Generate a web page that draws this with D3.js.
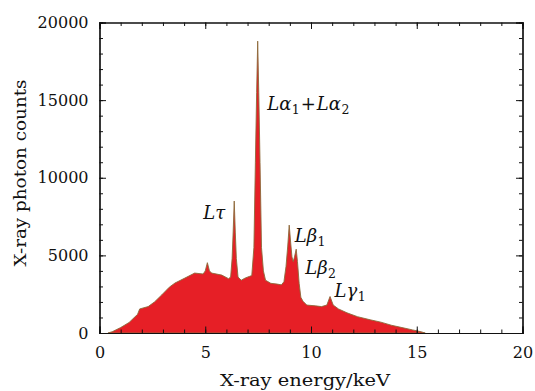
<!DOCTYPE html>
<html>
<head>
<meta charset="utf-8">
<script src="https://cdn.jsdelivr.net/npm/d3@7"></script>
<style>
  body { margin: 0; background: #fff; }
  svg text { font-family: "DejaVu Serif", serif; fill: #111; }
  .peak { font-family: "DejaVu Serif", serif; font-size: 18px; }
</style>
</head>
<body>
<div id="chart"></div>
<script>
// spectrum (keV, photon counts)
const energy = [0.4, 0.6, 1.0, 1.4, 1.8, 1.9, 2.3, 2.6, 2.94, 3.3, 3.57, 4.04, 4.5, 4.9, 5.0, 5.1, 5.2, 5.3,
  5.78, 6.1, 6.2, 6.27, 6.32, 6.37, 6.42, 6.47, 6.55, 6.7, 6.9, 7.1, 7.2, 7.3, 7.37, 7.43, 7.48, 7.53, 7.59,
  7.66, 7.75, 7.85, 8.1, 8.4, 8.6, 8.72, 8.82, 8.9, 8.97, 9.04, 9.1, 9.16, 9.22, 9.3, 9.36, 9.44, 9.52, 9.62,
  9.8, 10.2, 10.5, 10.75, 10.9, 11.05, 11.3, 11.7, 12.2, 12.8, 13.3, 13.8, 14.3, 14.8, 15.2, 15.4];
const counts = [0, 80, 350, 680, 1200, 1550, 1700, 2000, 2450, 2950, 3220, 3540, 3860, 3800, 4000, 4530, 4000, 3860,
  3730, 3500, 3600, 4800, 6500, 8500, 6500, 4800, 3600, 3400, 3550, 3650, 3700, 5500, 11000, 15500, 18800, 15500, 11000,
  5500, 4000, 3400, 3200, 3150, 3100, 3300, 4300, 5600, 6950, 5800, 4900, 4600, 4900, 5400, 4600, 3200, 2300, 2050,
  1800, 1750, 1700, 1800, 2350, 1800, 1550, 1300, 1050, 850, 700, 500, 350, 200, 80, 0];

const xTicks = [0, 5, 10, 15, 20];
const yTicks = [0, 5000, 10000, 15000, 20000];

const peakLabels = [
  { greek: "τ", sub: "", e: 6.37, c: 8500 },
  { greek: "α", sub: "1", greek2: "α", sub2: "2", e: 7.48, c: 18800 },
  { greek: "β", sub: "1", e: 8.97, c: 6950 },
  { greek: "β", sub: "2", e: 9.3, c: 5400 },
  { greek: "γ", sub: "1", e: 10.9, c: 2350 }
];
// label anchor positions (px) relative to each peak
const labelOffsets = [[-31, 18], [9.5, 69], [5.5, 17], [9, 25], [4.5, 0]];

const width = 535, height = 391;
const margin = { top: 22.5, right: 12.5, bottom: 58, left: 99.5 };

const data = energy.map((e, i) => ({ e: e, c: counts[i] }));

const svg = d3.select("#chart").append("svg")
  .attr("width", width).attr("height", height);

const x = d3.scaleLinear().domain([0, 20]).range([margin.left, width - margin.right]);
const y = d3.scaleLinear().domain([0, 20000]).range([height - margin.bottom, margin.top]);

/* spectrum area */
const area = d3.area().x(d => x(d.e)).y0(y(0)).y1(d => y(d.c));
svg.append("path")
  .datum(data)
  .attr("d", area)
  .attr("fill", "#e61f26")
  .attr("stroke", "#8c6a3a")
  .attr("stroke-width", 0.9)
  .attr("stroke-linejoin", "round");

/* frame and ticks on all sides */
const minorX = d3.range(0, 21, 1), minorY = d3.range(0, 20001, 1000);
svg.append("g").attr("transform", `translate(0,${y(0)})`)
  .call(d3.axisBottom(x).tickValues(minorX).tickSize(-3.5).tickFormat(""));
svg.append("g").attr("transform", `translate(0,${y(20000)})`)
  .call(d3.axisTop(x).tickValues(minorX).tickSize(-3.5).tickFormat(""));
svg.append("g").attr("transform", `translate(${x(0)},0)`)
  .call(d3.axisLeft(y).tickValues(minorY).tickSize(-3.5).tickFormat(""));
svg.append("g").attr("transform", `translate(${x(20)},0)`)
  .call(d3.axisRight(y).tickValues(minorY).tickSize(-3.5).tickFormat(""));

svg.append("g").attr("transform", `translate(0,${y(0)})`)
  .call(d3.axisBottom(x).tickValues(xTicks).tickSize(-6.5).tickPadding(14));
svg.append("g").attr("transform", `translate(0,${y(20000)})`)
  .call(d3.axisTop(x).tickValues(xTicks).tickSize(-6.5).tickFormat(""));
svg.append("g").attr("transform", `translate(${x(0)},0)`)
  .call(d3.axisLeft(y).tickValues(yTicks).tickSize(-6.5).tickPadding(11).tickFormat(d3.format("d")));
svg.append("g").attr("transform", `translate(${x(20)},0)`)
  .call(d3.axisRight(y).tickValues(yTicks).tickSize(-6.5).tickFormat(""));

svg.selectAll(".domain").attr("stroke", "#111").attr("stroke-width", 1.2);
svg.selectAll(".tick line").attr("stroke", "#111");
svg.selectAll(".tick text").attr("font-size", 16).attr("font-family", "DejaVu Serif").attr("fill", "#111");

/* axis titles */
svg.append("text")
  .attr("x", 305)
  .attr("y", 386)
  .attr("text-anchor", "middle")
  .attr("font-size", 16.5)
  .attr("textLength", 170)
  .attr("lengthAdjust", "spacingAndGlyphs")
  .text("X-ray energy/keV");

svg.append("text")
  .attr("transform", `translate(26,173) rotate(-90)`)
  .attr("text-anchor", "middle")
  .attr("font-size", 17.5)
  .attr("textLength", 187)
  .attr("lengthAdjust", "spacingAndGlyphs")
  .text("X-ray photon counts");

/* peak labels */
peakLabels.forEach((p, i) => {
  const t = svg.append("text").attr("class", "peak")
    .attr("x", x(p.e) + labelOffsets[i][0])
    .attr("y", y(p.c) + labelOffsets[i][1]);
  t.append("tspan").attr("font-style", "italic").text("L" + p.greek);
  if (p.sub) t.append("tspan").attr("font-size", 12.5).attr("dx", 0.5).attr("dy", 4).text(p.sub);
  if (p.greek2) {
    t.append("tspan").attr("dx", 1).attr("dy", -4).text("+");
    t.append("tspan").attr("dx", 1).attr("font-style", "italic").text("L" + p.greek2);
    t.append("tspan").attr("font-size", 12.5).attr("dx", 0.5).attr("dy", 4).text(p.sub2);
  }
});
</script>
</body>
</html>
